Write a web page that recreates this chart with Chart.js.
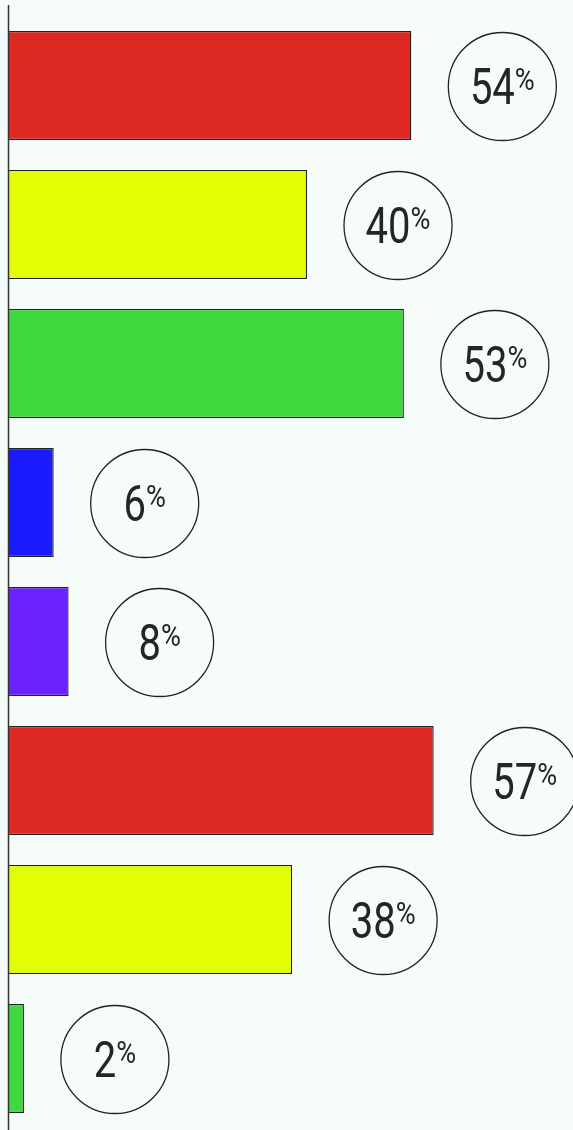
<!DOCTYPE html>
<html>
<head>
<meta charset="utf-8">
<script src="https://cdn.jsdelivr.net/npm/chart.js@4/dist/chart.umd.min.js"></script>
<style>
  html, body { margin: 0; padding: 0; background: #f6fcf9; }
  #wrap { width: 573px; height: 1130px; position: relative; }
</style>
</head>
<body>
<div id="wrap"><canvas id="chart"></canvas></div>
<script>
  // Datos
  const categories = ['A', 'B', 'C', 'D', 'E', 'F', 'G', 'H'];
  const values = [54, 40, 53, 6, 8, 57, 38, 2];
  const barColors = ['#de2822', '#e2ff06', '#3fd93f', '#1a1aff', '#6a22ff', '#de2822', '#e2ff06', '#3fd93f'];

  const FONT = 'Roboto, "DejaVu Sans Condensed", sans-serif';
  const NUM_SQUEEZE = 0.8;  // digitos condensados
  const PCT_SQUEEZE = 0.85;

  // Linea del eje vertical
  const axisLine = {
    id: 'axisLine',
    afterDatasetsDraw(chart) {
      const ctx = chart.ctx;
      const x = chart.chartArea.left;
      ctx.save();
      ctx.strokeStyle = '#333';
      ctx.lineWidth = 1.5;
      ctx.beginPath();
      ctx.moveTo(x - 0.5, 5);
      ctx.lineTo(x - 0.5, chart.height);
      ctx.stroke();
      ctx.restore();
    }
  };

  // Circulos con el porcentaje
  const circleLabels = {
    id: 'circleLabels',
    afterDatasetsDraw(chart) {
      const ctx = chart.ctx;
      const meta = chart.getDatasetMeta(0);
      meta.data.forEach((bar, i) => {
        const cx = bar.x + 91;
        const cy = bar.y + 1;
        const r = 54;
        ctx.save();
        ctx.beginPath();
        ctx.arc(cx, cy, r, 0, Math.PI * 2);
        ctx.strokeStyle = '#222';
        ctx.lineWidth = 1.3;
        ctx.stroke();

        const num = String(values[i]);
        const numFont = '50px ' + FONT;
        const pctFont = '32px ' + FONT;
        ctx.fillStyle = '#252525';
        ctx.textBaseline = 'alphabetic';
        ctx.textAlign = 'left';
        ctx.font = numFont;
        const wNum = ctx.measureText(num).width * NUM_SQUEEZE;
        ctx.font = pctFont;
        const wPct = ctx.measureText('%').width * PCT_SQUEEZE;
        const start = cx - (wNum + wPct) / 2;

        ctx.save();
        ctx.translate(start, cy);
        ctx.scale(NUM_SQUEEZE, 1);
        ctx.font = numFont;
        ctx.fillText(num, 0, 17);
        ctx.restore();

        ctx.translate(start + wNum, cy);
        ctx.scale(PCT_SQUEEZE, 1);
        ctx.font = pctFont;
        ctx.fillText('%', 0, 3);
        ctx.restore();
      });
    }
  };

  new Chart(document.getElementById('chart'), {
    type: 'bar',
    data: {
      labels: categories,
      datasets: [{
        data: values,
        backgroundColor: barColors,
        borderColor: '#222',
        borderWidth: 1.3,
        borderSkipped: 'start',
        barPercentage: 0.785,
        categoryPercentage: 1
      }]
    },
    options: {
      indexAxis: 'y',
      responsive: true,
      maintainAspectRatio: false,
      animation: false,
      layout: { padding: { left: 9, top: 16, right: 0, bottom: 2 } },
      plugins: {
        legend: { display: false },
        tooltip: { enabled: false }
      },
      scales: {
        x: { display: false, min: 0, max: 75.7 },
        y: { display: false }
      }
    },
    plugins: [axisLine, circleLabels]
  });
</script>
</body>
</html>
